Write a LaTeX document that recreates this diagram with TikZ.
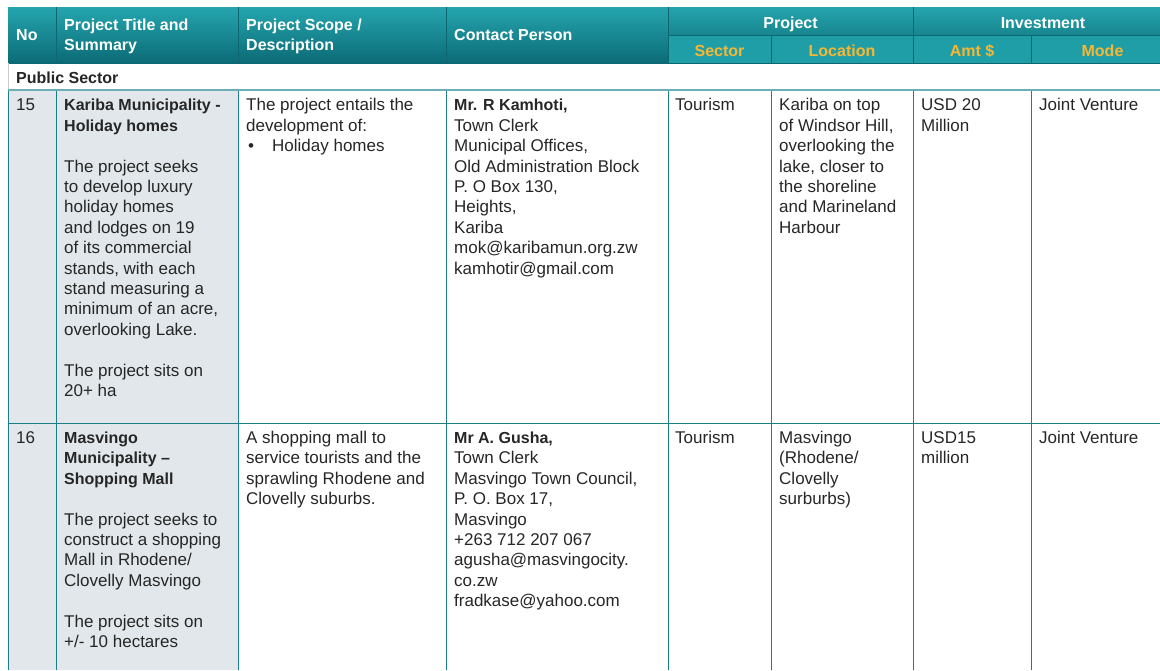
\documentclass[tikz,border=0pt]{standalone}
\usepackage{fontspec}
\setmainfont{Liberation Sans}
\definecolor{hdtop}{HTML}{25A5AE}
\definecolor{hdbot}{HTML}{0B6B76}
\definecolor{subfill}{HTML}{1F9EA7}
\definecolor{prjtop}{HTML}{25A4AD}
\definecolor{prjbot}{HTML}{17868F}
\definecolor{hdline}{HTML}{0E6671}
\definecolor{gridc}{HTML}{1C7E89}
\definecolor{sepc}{HTML}{6BAEB6}
\definecolor{yel}{HTML}{F7B733}
\definecolor{cellbg}{HTML}{E1E7EA}
\definecolor{txt}{HTML}{262626}
\newcommand\fstrut{\rule{0pt}{14pt}}
\newcommand\bt[1]{{\bfseries\fontsize{16}{20.4}\selectfont #1}}
\tikzset{
  hd/.style={anchor=north west, inner sep=0pt, align=left, text=white,
    font=\bfseries\fontsize{16}{20}\selectfont},
  hdc/.style={anchor=base, inner sep=0pt, text=white,
    font=\bfseries\fontsize{16}{20}\selectfont},
  hdy/.style={hdc, text=yel},
  bd/.style={anchor=north west, inner sep=0pt, align=left, text=txt,
    font=\fontsize{17}{20.4}\selectfont},
  grid/.style={draw=gridc, line width=1pt},
  hgrid/.style={draw=hdline, line width=1pt},
}
\begin{document}
\begin{tikzpicture}[x=1pt,y=-1pt]
\useasboundingbox (0,0) rectangle (1160,670);
\begin{scope}
\clip (0,0) rectangle (1160,670);
% header fills
\shade[top color=hdtop, bottom color=hdbot] (8,7) rectangle (668,63);
\shade[top color=prjtop, bottom color=prjbot] (668,7) rectangle (1174,35);
\fill[subfill] (668,35) rectangle (1174,63);
% shaded first columns
\fill[cellbg] (8,90) rectangle (238,670);
% header lines
\draw[hgrid] (56,7) -- (56,63);
\draw[hgrid] (238,7) -- (238,63);
\draw[hgrid] (446,7) -- (446,63);
\draw[hgrid] (668,7) -- (668,63);
\draw[hgrid] (913,7) -- (913,63);
\draw[hgrid] (771,35) -- (771,63);
\draw[hgrid] (1031,35) -- (1031,63);
\draw[hgrid] (668,35) -- (1174,35);
\draw[hgrid] (8,63) -- (1174,63);
% public sector row border
\draw[draw=gray!40, line width=1pt] (8,63) -- (8,90);
% body grid
\foreach \x in {8,56,238,446,668,771,913,1031}
  \draw[grid] (\x,90) -- (\x,670);
\draw[draw=sepc, line width=2pt] (8,90) -- (1174,90);
\draw[grid] (8,423) -- (1174,423);
\end{scope}

% header texts
\node[hd] (hno) at (16,29) {No};
\node[hd] (htitle) at (64,19) {Project Title and\\Summary};
\node[hd] (hscope) at (246,19) {Project Scope /\\Description};
\node[hd] (hcontact) at (454,29) {Contact Person};
\node[hdc] (hproject) at (790.5,28) {Project};
\node[hdc] (hinvest) at (1043,28) {Investment};
\node[hdy] (hsector) at (719.5,56) {Sector};
\node[hdy] (hloc) at (842,56) {Location};
\node[hdy] (hamt) at (972,56) {Amt \$};
\node[hdy] (hmode) at (1102.5,56) {Mode};

\node[anchor=base west, inner sep=0pt, text=txt, font=\bfseries\fontsize{16}{20}\selectfont] (ps) at (16,83) {Public Sector};

% row 15
\node[bd] (n15) at (16,96.7) {\fstrut 15};
\node[bd] (t15) at (64,96.7) {\fstrut\bt{Kariba Municipality -}\\\bt{Holiday homes}\\[20.4pt]
The project seeks\\to develop luxury\\holiday homes\\and lodges on 19\\of its commercial\\stands, with each\\stand measuring a\\minimum of an acre,\\overlooking Lake.\\[20.4pt]
The project sits on\\20+ ha};
\node[bd] (s15) at (246,96.7) {\fstrut The project entails the\\development of:\\\hspace*{2pt}\makebox[24pt][l]{•}Holiday homes};
\node[bd] (c15) at (454,96.7) {\fstrut\bt{Mr. R Kamhoti,}\\Town Clerk\\Municipal Offices,\\Old Administration Block\\P. O Box 130,\\Heights,\\Kariba\\mok@karibamun.org.zw\\kamhotir@gmail.com};
\node[bd] (sec15) at (675,96.7) {\fstrut Tourism};
\node[bd] (loc15) at (779,96.7) {\fstrut Kariba on top\\of Windsor Hill,\\overlooking the\\lake, closer to\\the shoreline\\and Marineland\\Harbour};
\node[bd] (amt15) at (921,96.7) {\fstrut USD 20\\Million};
\node[bd] (mode15) at (1039,96.7) {\fstrut Joint Venture};

% row 16
\node[bd] (n16) at (16,429.3) {\fstrut 16};
\node[bd] (t16) at (64,429.3) {\fstrut\bt{Masvingo}\\\bt{Municipality –}\\\bt{Shopping Mall}\\[20.4pt]
The project seeks to\\construct a shopping\\Mall in Rhodene/\\Clovelly Masvingo\\[20.4pt]
The project sits on\\+/- 10 hectares};
\node[bd] (s16) at (246,429.3) {\fstrut A shopping mall to\\service tourists and the\\sprawling Rhodene and\\Clovelly suburbs.};
\node[bd] (c16) at (454,429.3) {\fstrut\bt{Mr A. Gusha,}\\Town Clerk\\Masvingo Town Council,\\P. O. Box 17,\\Masvingo\\+263 712 207 067\\agusha@masvingocity.\\co.zw\\fradkase@yahoo.com};
\node[bd] (sec16) at (675,429.3) {\fstrut Tourism};
\node[bd] (loc16) at (779,429.3) {\fstrut Masvingo\\(Rhodene/\\Clovelly\\surburbs)};
\node[bd] (amt16) at (921,429.3) {\fstrut USD15\\million};
\node[bd] (mode16) at (1039,429.3) {\fstrut Joint Venture};
\end{tikzpicture}
\end{document}
